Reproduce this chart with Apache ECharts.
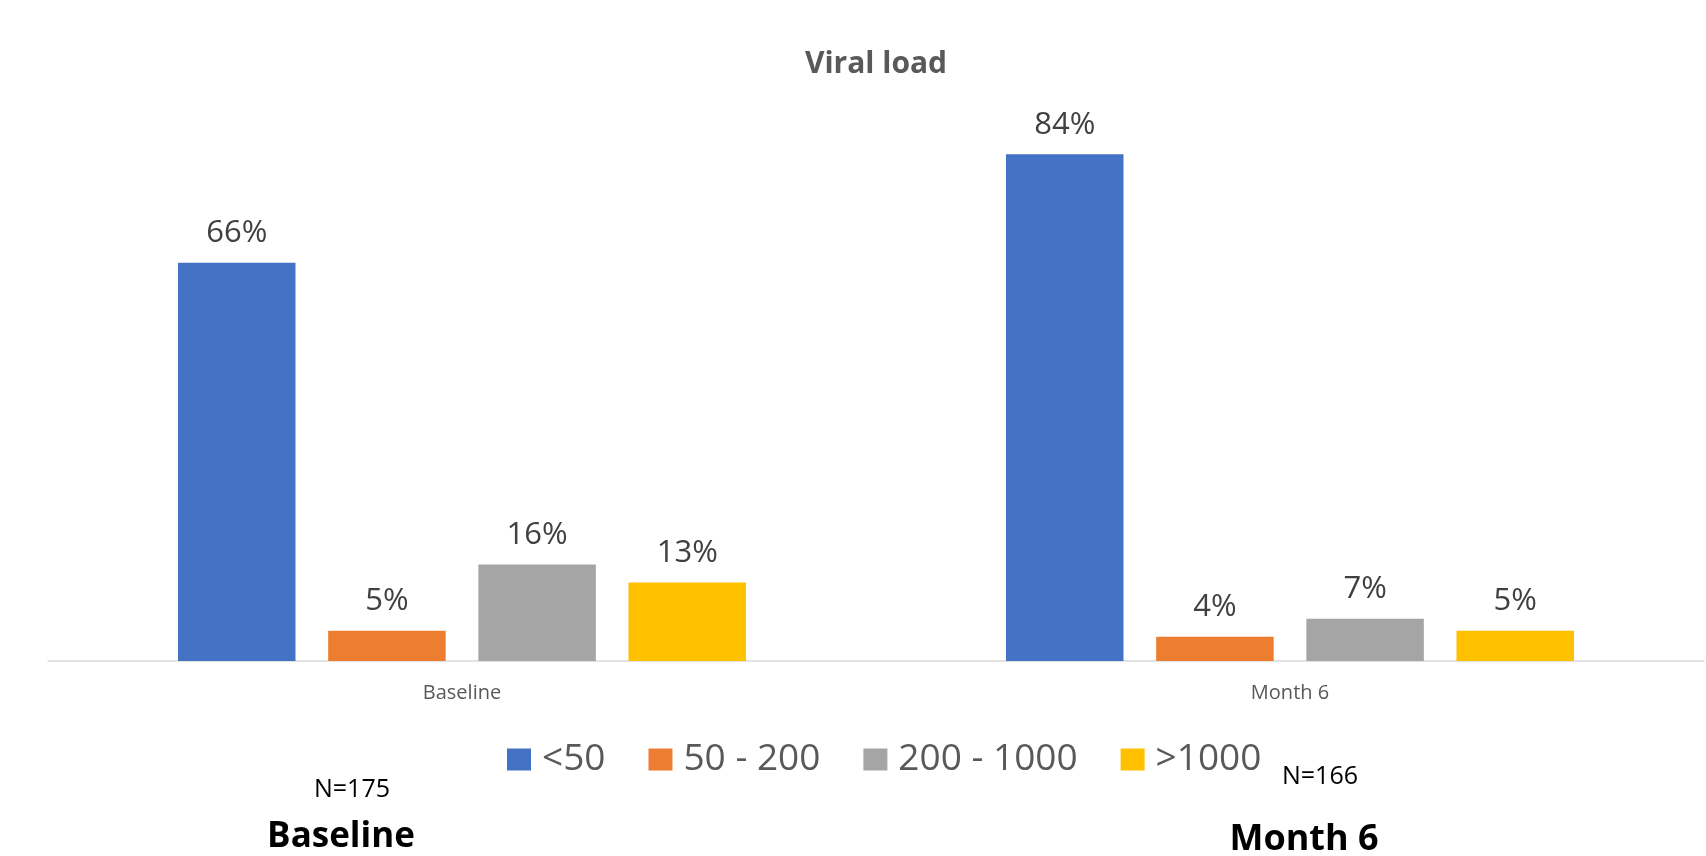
<!DOCTYPE html>
<html>
<head>
<meta charset="utf-8">
<script src="https://cdn.jsdelivr.net/npm/echarts@6/dist/echarts.min.js"></script>
<style>
html,body{margin:0;padding:0;background:#fff;}
#chart{width:1706px;height:856px;}
</style>
</head>
<body>
<div id="chart"></div>
<script>
const categories = ['Baseline', 'Month 6'];
const seriesNames = ['<50', '50 - 200', '200 - 1000', '>1000'];
const lt50 = [66, 84];
const v50to200 = [5, 4];
const v200to1000 = [16, 7];
const gt1000 = [13, 5];
const seriesColors = ['#4472C4', '#ED7D31', '#A5A5A5', '#FFC000'];
const sampleSizes = ['N=175', 'N=166'];
const groupTitles = ['Baseline', 'Month 6'];

const values = [lt50, v50to200, v200to1000, gt1000];
const FONT = '"Open Sans", sans-serif';

const chart = echarts.init(document.getElementById('chart'));
chart.setOption({
  animation: false,
  backgroundColor: '#fff',
  grid: { left: 48, right: 2, top: 118, bottom: 195, containLabel: false },
  xAxis: {
    type: 'category',
    data: categories,
    axisLine: { show: true, lineStyle: { color: '#D9D9D9', width: 1.5 } },
    axisTick: { show: false },
    axisLabel: { margin: 22, fontFamily: FONT, fontSize: 20, color: '#595959' }
  },
  yAxis: {
    type: 'value', min: 0, max: 90, show: false,
    splitLine: { show: false }
  },
  legend: {
    left: 507, top: 741, padding: 0,
    itemWidth: 24, itemHeight: 22, itemGap: 43, icon: 'rect',
    textStyle: { fontFamily: FONT, fontSize: 37, color: '#595959', padding: [0, 0, 0, 6] },
    data: seriesNames
  },
  series: seriesNames.map((name, i) => ({
    name: name,
    type: 'bar',
    data: values[i],
    itemStyle: { color: seriesColors[i] },
    barGap: '27.8%',
    barCategoryGap: '31.4%',
    label: {
      show: true, position: 'top', distance: 14,
      formatter: '{c}%', fontFamily: FONT, fontSize: 31, color: '#404040'
    }
  })),
  graphic: [
    { type: 'text', x: 876, y: 64, style: { text: 'Viral load', fontFamily: FONT, fontSize: 30, fontWeight: 'bold', fill: '#595959', textAlign: 'center', textVerticalAlign: 'middle' } },
    { type: 'text', x: 352, y: 790, style: { text: sampleSizes[0], fontFamily: FONT, fontSize: 25, fill: '#000', textAlign: 'center', textVerticalAlign: 'middle' } },
    { type: 'text', x: 1320, y: 777, style: { text: sampleSizes[1], fontFamily: FONT, fontSize: 25, fill: '#000', textAlign: 'center', textVerticalAlign: 'middle' } },
    { type: 'text', x: 341, y: 837, style: { text: groupTitles[0], fontFamily: FONT, fontSize: 35, fontWeight: 'bold', fill: '#000', textAlign: 'center', textVerticalAlign: 'middle' } },
    { type: 'text', x: 1304, y: 840, style: { text: groupTitles[1], fontFamily: FONT, fontSize: 36, fontWeight: 'bold', fill: '#000', textAlign: 'center', textVerticalAlign: 'middle' } }
  ]
});
</script>
</body>
</html>
